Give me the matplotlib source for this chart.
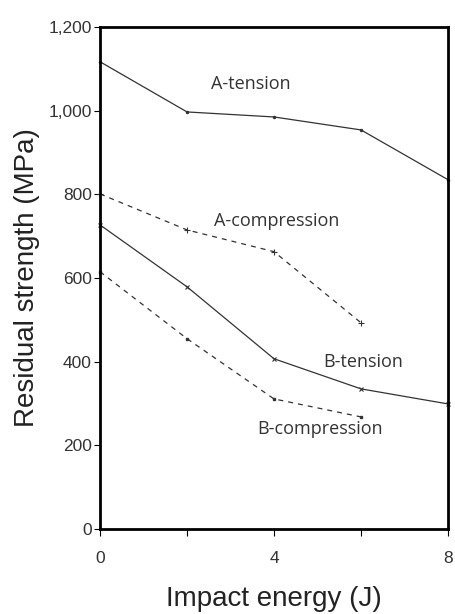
import matplotlib.pyplot as plt
from matplotlib.ticker import FuncFormatter

# impact energy (J)
energy = [0, 2, 4, 6, 8]
energy_short = [0, 2, 4, 6]

# residual strength (MPa)
a_tension = [1117, 997, 985, 954, 835]
a_compression = [801, 715, 663, 493]
b_tension = [727, 579, 407, 335, 299]
b_compression = [615, 455, 311, 268]

plt.rcParams['font.family'] = ['Liberation Sans', 'DejaVu Sans']

fig = plt.figure(figsize=(4.56, 6.14), dpi=100)
ax = fig.add_axes([0.2193, 0.1384, 0.7632, 0.8176])

line_col = '#333333'
ax.plot(energy, a_tension, '-', color=line_col, lw=0.9, marker='.', ms=3, clip_on=False)
ax.plot(energy_short, a_compression, '--', color=line_col, lw=0.9, dashes=(4, 4),
        marker='+', ms=4, mew=0.8, clip_on=False)
ax.plot(energy, b_tension, '-', color=line_col, lw=0.9, marker='x', ms=3, mew=0.8, clip_on=False)
ax.plot(energy_short, b_compression, '--', color=line_col, lw=0.9, dashes=(4, 4),
        marker='s', ms=2, clip_on=False)

txt = dict(fontsize=13, color='#333333', family=['Open Sans', 'DejaVu Sans'])
ax.text(3.47, 1064, 'A-tension', ha='center', va='center', **txt)
ax.text(4.07, 736, 'A-compression', ha='center', va='center', **txt)
ax.text(6.05, 400, 'B-tension', ha='center', va='center', **txt)
ax.text(5.05, 240, 'B-compression', ha='center', va='center', **txt)

ax.set_xlim(0, 8)
ax.set_ylim(0, 1200)
ax.set_xticks([0, 2, 4, 6, 8])
ax.set_xticklabels(['0', '', '4', '', '8'])
ax.set_yticks([0, 200, 400, 600, 800, 1000, 1200])
ax.yaxis.set_major_formatter(FuncFormatter(lambda v, p: f"{int(v):,}"))
ax.tick_params(axis='x', direction='out', length=5, width=0.8, pad=11,
               labelsize=12.5, labelcolor='#333333')
ax.tick_params(axis='y', direction='out', length=4, width=0.8, pad=2,
               labelsize=12.5, labelcolor='#333333')

for s in ax.spines.values():
    s.set_linewidth(2)
    s.set_color('black')

ax.set_xlabel('Impact energy (J)', fontsize=20, color='#222222', labelpad=14)
ax.set_ylabel('Residual strength (MPa)', fontsize=20, color='#222222', labelpad=6)

fig.savefig('out.png', dpi=100)
